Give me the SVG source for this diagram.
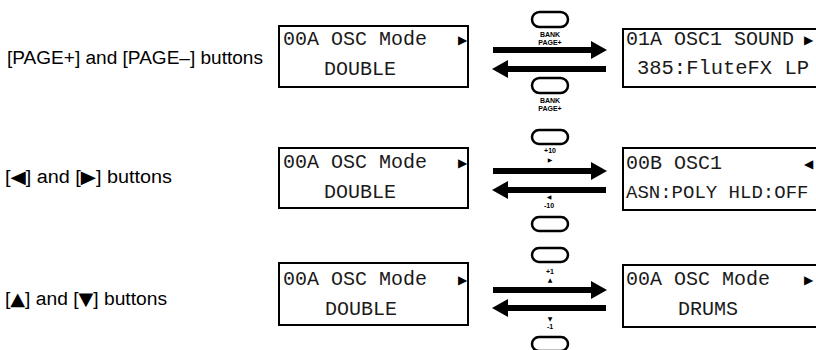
<svg xmlns="http://www.w3.org/2000/svg" width="816" height="350" viewBox="0 0 816 350">
<style>
.lbl{font-family:"Liberation Sans","DejaVu Sans",sans-serif;font-size:18px;fill:#000}
.tri{font-family:"DejaVu Sans",sans-serif}
.lcd{font-family:"Liberation Mono","DejaVu Sans Mono",monospace;font-size:20px;fill:#1a1a1a}
.cur{font-family:"DejaVu Sans",sans-serif;font-size:12px;fill:#000}
.box{fill:#fff;stroke:#000;stroke-width:2}
.btn{fill:#fff;stroke:#000;stroke-width:2.5}
.bt{font-family:"Liberation Sans",Arial,sans-serif;font-size:7px;font-weight:bold;text-anchor:middle;fill:#000}
.sym{font-family:"DejaVu Sans",sans-serif;font-size:6px;text-anchor:middle;fill:#000}
.arr{stroke:#000;stroke-width:6;fill:none;marker-end:url(#head)}
</style>
<defs>
<marker id="head" markerUnits="userSpaceOnUse" markerWidth="16" markerHeight="18" refX="0" refY="9" orient="auto">
<path d="M0,0 L16,9 L0,18 z" fill="#000"/>
</marker>
</defs>
<rect width="816" height="350" fill="#fff"/>

<g id="labels">
<text class="lbl" x="7" y="64" textLength="256" lengthAdjust="spacingAndGlyphs">[PAGE+] and [PAGE–] buttons</text>
<text class="lbl" x="5" y="183" textLength="167" lengthAdjust="spacingAndGlyphs">[<tspan class="tri">◀</tspan>] and [<tspan class="tri">▶</tspan>] buttons</text>
<text class="lbl" x="5" y="305" textLength="162" lengthAdjust="spacingAndGlyphs">[<tspan class="tri">▲</tspan>] and [<tspan class="tri">▼</tspan>] buttons</text>
</g>

<g id="lcd1a">
<rect class="box" x="279" y="26" width="189" height="61"/>
<text class="lcd" x="283" y="45">00A OSC Mode</text>
<text class="cur" x="458" y="44">▶</text>
<text class="lcd" x="324" y="75">DOUBLE</text>
</g>
<g id="lcd1b">
<rect class="box" x="623" y="29" width="194" height="58"/>
<text class="lcd" x="626" y="45">01A OSC1 SOUND</text>
<text class="cur" x="804" y="44">▶</text>
<text class="lcd" x="637" y="74" textLength="172" lengthAdjust="spacingAndGlyphs">385:FluteFX LP</text>
</g>
<g id="lcd2a">
<rect class="box" x="279" y="148" width="189" height="60"/>
<text class="lcd" x="283" y="168">00A OSC Mode</text>
<text class="cur" x="458" y="167">▶</text>
<text class="lcd" x="324" y="198">DOUBLE</text>
</g>
<g id="lcd2b">
<rect class="box" x="623" y="148" width="194" height="62"/>
<text class="lcd" x="626" y="169">00B OSC1</text>
<text class="cur" x="804" y="168">◀</text>
<text class="lcd" x="626" y="198" style="font-size:19px">ASN:POLY HLD:OFF</text>
</g>
<g id="lcd3a">
<rect class="box" x="279" y="263" width="189" height="62"/>
<text class="lcd" x="283" y="285">00A OSC Mode</text>
<text class="cur" x="458" y="284">▶</text>
<text class="lcd" x="325" y="315">DOUBLE</text>
</g>
<g id="lcd3b">
<rect class="box" x="623" y="265" width="194" height="62"/>
<text class="lcd" x="626" y="285">00A OSC Mode</text>
<text class="cur" x="804" y="284">▶</text>
<text class="lcd" x="678" y="315">DRUMS</text>
</g>

<g id="btn-page-up">
<rect class="btn" x="532" y="12" width="36" height="15" rx="7.5"/>
<text class="bt" x="550" y="37">BANK</text>
<text class="bt" x="550" y="45">PAGE+</text>
</g>
<g id="btn-page-down">
<rect class="btn" x="532" y="78" width="36" height="15" rx="7.5"/>
<text class="bt" x="550" y="103">BANK</text>
<text class="bt" x="550" y="111">PAGE+</text>
</g>
<g id="btn-right">
<rect class="btn" x="532" y="130" width="36" height="14" rx="7"/>
<text class="bt" x="550" y="153">+10</text>
<text class="sym" x="550" y="162">▶</text>
</g>
<g id="btn-left">
<rect class="btn" x="532" y="217" width="36" height="14" rx="7"/>
<text class="sym" x="549" y="199">◀</text>
<text class="bt" x="549" y="208">-10</text>
</g>
<g id="btn-up">
<rect class="btn" x="532" y="248" width="36" height="14" rx="7"/>
<text class="bt" x="550" y="274">+1</text>
<text class="sym" x="550" y="282">▲</text>
</g>
<g id="btn-down">
<rect class="btn" x="532" y="337" width="36" height="14" rx="7"/>
<text class="sym" x="550" y="321">▼</text>
<text class="bt" x="550" y="329">-1</text>
</g>

<g id="connectors">
<line class="arr" x1="493" y1="50" x2="591" y2="50"/>
<line class="arr" x1="606" y1="69" x2="508" y2="69"/>
<line class="arr" x1="493" y1="171" x2="591" y2="171"/>
<line class="arr" x1="606" y1="190" x2="508" y2="190"/>
<line class="arr" x1="493" y1="290" x2="591" y2="290"/>
<line class="arr" x1="606" y1="308" x2="508" y2="308"/>
</g>
</svg>
